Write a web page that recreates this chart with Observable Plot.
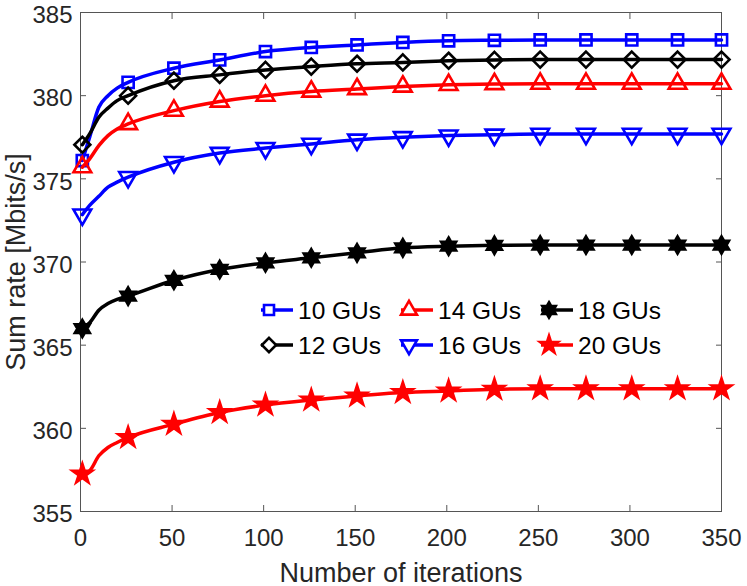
<!DOCTYPE html>
<html><head><meta charset="utf-8">
<script src="https://cdn.jsdelivr.net/npm/d3@7"></script>
<script src="https://cdn.jsdelivr.net/npm/@observablehq/plot@0.6"></script>
<style>
html,body{margin:0;padding:0;background:#fff;}
#chart{width:747px;height:586px;}
#chart svg{font-family:"Liberation Sans", Arial, sans-serif;}
g[aria-label="x-axis label"], g[aria-label="y-axis label"]{font-size:27px;}
</style></head><body><div id="chart"></div>
<script>
// iterations at which the curves are sampled
const iterations = [1, 5, 10, 15, 20, 26, 51, 76, 101, 126, 151, 176, 201, 226, 251, 276, 301, 326, 350];
// iterations that carry a marker
const markerIterations = [1, 26, 51, 76, 101, 126, 151, 176, 201, 226, 251, 276, 301, 326, 350];

const gu10 = [376.1, 377.5, 379.3, 380.0, 380.45, 380.8, 381.65, 382.15, 382.65, 382.9, 383.05, 383.2, 383.3, 383.33, 383.35, 383.35, 383.35, 383.35, 383.35];
const gu12 = [377.05, 377.7, 378.7, 379.25, 379.7, 380.0, 380.9, 381.25, 381.55, 381.75, 381.92, 382.0, 382.1, 382.15, 382.17, 382.17, 382.17, 382.17, 382.17];
const gu14 = [375.7, 376.2, 377.0, 377.6, 378.0, 378.3, 379.1, 379.65, 380.0, 380.25, 380.4, 380.55, 380.65, 380.7, 380.72, 380.72, 380.72, 380.72, 380.72];
const gu16 = [372.85, 373.4, 373.95, 374.5, 374.8, 375.1, 376.0, 376.55, 376.85, 377.1, 377.35, 377.5, 377.6, 377.65, 377.7, 377.7, 377.7, 377.7, 377.7];
const gu18 = [366.0, 366.35, 367.1, 367.5, 367.75, 367.95, 368.9, 369.55, 369.95, 370.25, 370.55, 370.85, 370.95, 371.0, 371.02, 371.02, 371.02, 371.02, 371.02];
const gu20 = [357.25, 357.45, 358.35, 358.85, 359.15, 359.45, 360.25, 360.95, 361.4, 361.7, 361.95, 362.15, 362.25, 362.35, 362.38, 362.38, 362.38, 362.38, 362.38];

const seriesNames = ["10 GUs", "12 GUs", "14 GUs", "16 GUs", "18 GUs", "20 GUs"];
const seriesValues = [gu10, gu12, gu14, gu16, gu18, gu20];
const seriesColors = ["#0000ff", "#000000", "#ff0000", "#0000ff", "#000000", "#ff0000"];
const seriesSymbols = ["square", "diamond", "triangle", "triangleDown", "hexagram", "pentagram"];

const xTicks = [0, 50, 100, 150, 200, 250, 300, 350];
const yTicks = [355, 360, 365, 370, 375, 380, 385];

// symbol definitions
const hexagram = {
  draw(ctx, size) {
    const R = Math.sqrt(size / Math.PI) * 1.4;
    const r = R / Math.sqrt(3);
    for (let i = 0; i < 12; i++) {
      const a = i * Math.PI / 6 - Math.PI / 2;
      const rad = i % 2 === 0 ? R : r;
      const px = rad * Math.cos(a), py = rad * Math.sin(a);
      if (i === 0) ctx.moveTo(px, py); else ctx.lineTo(px, py);
    }
    ctx.closePath();
  }
};
const symbolSpec = {
  square:       {symbol: "square",   d3: d3.symbolSquare,   r: 6.3, rotate: 0,   filled: false},
  diamond:      {symbol: "diamond2", d3: d3.symbolDiamond2, r: 7.2, rotate: 0,   filled: false},
  triangle:     {symbol: "triangle", d3: d3.symbolTriangle, r: 6.6, rotate: 0,   filled: false},
  triangleDown: {symbol: "triangle", d3: d3.symbolTriangle, r: 6.6, rotate: 180, filled: false},
  hexagram:     {symbol: hexagram,   d3: hexagram,          r: 6.2, rotate: 0,   filled: true},
  pentagram:    {symbol: "star",     d3: d3.symbolStar,     r: 6.2, rotate: 0,   filled: true}
};

const rows = [];
seriesNames.forEach((name, i) => {
  iterations.forEach((it, j) => {
    rows.push({series: name, iteration: it, rate: seriesValues[i][j], marker: markerIterations.includes(it)});
  });
});

const seriesMarks = [];
seriesNames.forEach((name, i) => {
  const spec = symbolSpec[seriesSymbols[i]];
  const data = rows.filter(d => d.series === name);
  seriesMarks.push(Plot.line(data, {x: "iteration", y: "rate", stroke: seriesColors[i], strokeWidth: 3.5, curve: "monotone-x"}));
  seriesMarks.push(Plot.dot(data.filter(d => d.marker), {
    x: "iteration", y: "rate", symbol: spec.symbol, r: spec.r, rotate: spec.rotate,
    stroke: seriesColors[i], strokeWidth: 2.6, fill: spec.filled ? seriesColors[i] : "none"
  }));
});

const axisColor = "#262626";
const chart = Plot.plot({
  width: 747, height: 586,
  marginLeft: 80, marginRight: 26, marginTop: 12, marginBottom: 75,
  style: {fontSize: "24px", color: axisColor, background: "#fff", overflow: "visible"},
  x: {domain: [0, 350]},
  y: {domain: [355, 385]},
  marks: [
    Plot.axisX({ticks: xTicks, tickSize: 0, tickPadding: 17, label: "Number of iterations", labelAnchor: "center", labelOffset: 70, labelArrow: "none"}),
    Plot.axisY({ticks: yTicks, tickSize: 0, tickPadding: 8, dy: 3, label: "Sum rate [Mbits/s]", labelAnchor: "center", labelOffset: 75, labelArrow: "none"}),
    Plot.axisX({ticks: xTicks, anchor: "bottom", tickSize: -6, tickFormat: () => "", label: null, stroke: "#555"}),
    Plot.axisX({ticks: xTicks, anchor: "top", tickSize: -6, tickFormat: () => "", label: null, stroke: "#555"}),
    Plot.axisY({ticks: yTicks, anchor: "left", tickSize: -6, tickFormat: () => "", label: null, stroke: "#555"}),
    Plot.axisY({ticks: yTicks, anchor: "right", tickSize: -6, tickFormat: () => "", label: null, stroke: "#555"}),
    Plot.frame({stroke: "#555", strokeWidth: 1}),
    ...seriesMarks
  ]
});
document.getElementById("chart").appendChild(chart);

// legend (inside the axes, two rows x three columns)
const svg = d3.select(chart);
const legendCols = [261, 401, 541];
const legendRows = [310, 345];
const lg = svg.append("g").attr("class", "legend").attr("text-anchor", "start");
seriesNames.forEach((name, i) => {
  const col = Math.floor(i / 2), row = i % 2;
  const x0 = legendCols[col], y0 = legendRows[row];
  const spec = symbolSpec[seriesSymbols[i]];
  lg.append("line").attr("x1", x0).attr("x2", x0 + 32).attr("y1", y0).attr("y2", y0)
    .attr("stroke", seriesColors[i]).attr("stroke-width", 3.5);
  lg.append("path")
    .attr("d", d3.symbol(spec.d3, Math.PI * spec.r * spec.r * 0.8)())
    .attr("transform", `translate(${x0 + 8},${y0}) rotate(${spec.rotate})`)
    .attr("stroke", seriesColors[i]).attr("stroke-width", 2.6)
    .attr("fill", spec.filled ? seriesColors[i] : "white");
  lg.append("text").attr("x", x0 + 37).attr("y", y0).attr("dy", "0.35em")
    .attr("text-anchor", "start")
    .attr("font-size", 24.5).attr("fill", "#000").text(name);
});
</script></body></html>
